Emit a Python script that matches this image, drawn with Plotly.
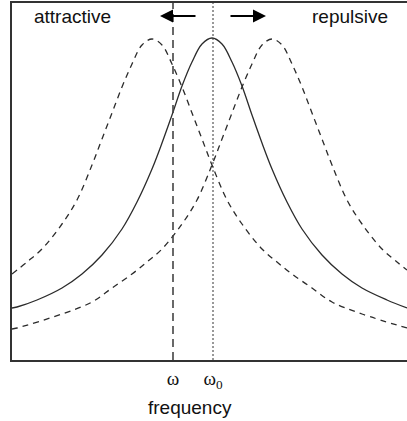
import plotly.graph_objects as go

# frequency positions (arbitrary units) and response heights
solid_f = [12, 17, 37, 62, 82, 102, 122, 137, 152, 162, 172, 182, 192, 202, 212,
           222, 232, 242, 252, 262, 272, 287, 302, 322, 342, 362, 387, 407]
solid_r = [52, 53, 60, 72, 86, 105, 131, 158, 191, 217, 245, 274, 298, 316, 322,
           316, 298, 274, 245, 217, 191, 158, 131, 105, 86, 72, 60, 52]

left_f = [12, 27, 42, 62, 77, 92, 102, 112, 122, 132, 142, 152, 162, 172, 182,
          192, 202, 212, 227, 242, 262, 277, 292, 312, 332, 362, 407]
left_r = [86, 98, 111, 136, 160, 195, 221, 247, 273, 296, 315, 321, 315, 296, 273,
          247, 221, 195, 160, 136, 111, 98, 86, 72, 58, 46, 32]

right_f = [12, 17, 62, 92, 112, 132, 147, 162, 182, 197, 212, 222, 232, 242, 252,
           262, 272, 282, 292, 302, 312, 322, 332, 347, 362, 382, 397, 407]
right_r = [31, 32, 46, 58, 72, 86, 98, 111, 136, 160, 195, 221, 247, 273, 296,
           315, 321, 315, 296, 273, 247, 221, 195, 160, 136, 111, 98, 90]

omega = 173
omega0 = 213
tick_vals = [omega, omega0]
tick_text = ["ω", "ω<sub>0</sub>"]

ink = "#2b2b2b"

fig = go.Figure()
fig.add_trace(go.Scatter(x=left_f, y=left_r, mode="lines",
                         line=dict(color=ink, width=1.3, dash="6px,5px", shape="spline", smoothing=1)))
fig.add_trace(go.Scatter(x=right_f, y=right_r, mode="lines",
                         line=dict(color=ink, width=1.3, dash="6px,5px", shape="spline", smoothing=1)))
fig.add_trace(go.Scatter(x=solid_f, y=solid_r, mode="lines",
                         line=dict(color=ink, width=1.3, shape="spline", smoothing=1)))

fig.add_shape(type="line", xref="x", yref="paper", x0=omega, x1=omega, y0=0, y1=1,
              line=dict(color="#444", width=1.6, dash="8px,5px"))
fig.add_shape(type="line", xref="x", yref="paper", x0=omega0, x1=omega0, y0=0, y1=1,
              line=dict(color="#333", width=1, dash="2px,2px"))

# arrows
fig.add_annotation(x=160, y=344, ax=197, ay=344, xref="x", yref="y", axref="x", ayref="y",
                   text="", showarrow=True, arrowhead=2, arrowsize=1.3, arrowwidth=2, arrowcolor="black")
fig.add_annotation(x=266, y=344, ax=229, ay=344, xref="x", yref="y", axref="x", ayref="y",
                   text="", showarrow=True, arrowhead=2, arrowsize=1.3, arrowwidth=2, arrowcolor="black")

fig.add_annotation(x=72, y=344, xref="x", yref="y", text="attractive", showarrow=False,
                   font=dict(family="Liberation Sans, Arial", size=19, color="#111"))
fig.add_annotation(x=350, y=344, xref="x", yref="y", text="repulsive", showarrow=False,
                   font=dict(family="Liberation Sans, Arial", size=19, color="#111"))
fig.add_annotation(x=190, y=-0.132, xref="x", yref="paper", yanchor="middle",
                   text="frequency", showarrow=False,
                   font=dict(family="Liberation Sans, Arial", size=19, color="#111"))

fig.update_layout(
    width=407, height=421,
    margin=dict(l=12, r=0, t=3, b=61),
    paper_bgcolor="white", plot_bgcolor="white",
    showlegend=False,
    xaxis=dict(range=[12, 407], showgrid=False, zeroline=False,
               showline=True, mirror=True, linecolor="#333", linewidth=1.6,
               tickvals=tick_vals, ticktext=tick_text, ticks="", ticklabelstandoff=0,
               tickfont=dict(family="Liberation Serif, Times New Roman", size=19, color="#111")),
    yaxis=dict(range=[0, 357], showgrid=False, zeroline=False, showticklabels=False,
               showline=True, linecolor="#333", linewidth=1.6, ticks=""),
)

fig.write_html("out.html")
